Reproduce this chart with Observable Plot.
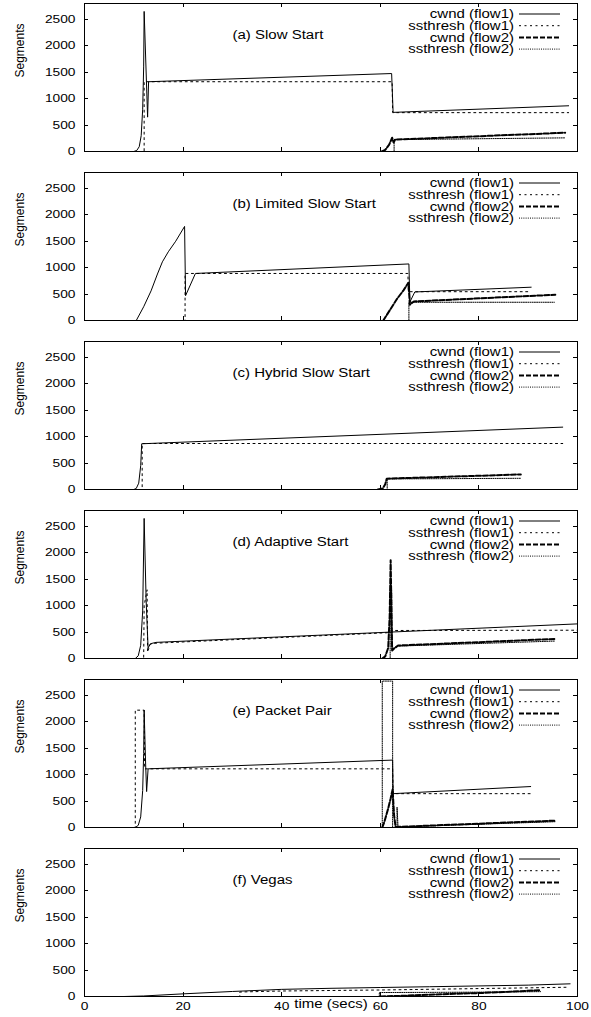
<!DOCTYPE html>
<html>
<head>
<meta charset="utf-8">
<script src="https://cdn.jsdelivr.net/npm/d3@7"></script>
<script src="https://cdn.jsdelivr.net/npm/@observablehq/plot@0.6"></script>
<style>
  html, body { margin: 0; padding: 0; background: #fff; }
  #chart svg { display: block; }
</style>
</head>
<body>
<div id="chart"></div>
<script>
// ---- tick values / labels ----
const xTicks = [0, 20, 40, 60, 80, 100];
const yTicks = [0, 500, 1000, 1500, 2000, 2500];
const seriesNames = ["cwnd (flow1)", "ssthresh (flow1)", "cwnd (flow2)", "ssthresh (flow2)"];
const panelTitles = ["(a) Slow Start", "(b) Limited Slow Start", "(c) Hybrid Slow Start",
                     "(d) Adaptive Start", "(e) Packet Pair", "(f) Vegas"];
const yLabel = "Segments";
const xLabel = "time (secs)";

// ---- series values: [time (secs), segments] ----
// (a) Slow Start
const aCwnd1 = [[0,0],[10,0],[10.6,20],[11.1,90],[11.5,300],[11.8,800],[12.0,1600],[12.1,2650],[12.8,650],[13.0,1320],[62.3,1475],[62.6,740],[98.2,865]];
const aSsthresh1 = [[0,0],[12.1,0],[12.1,1320],[62.4,1320],[62.5,735],[98.2,735]];
const aCwnd2 = [[60.3,0],[61.0,30],[61.8,130],[62.4,260],[62.7,170],[63.0,225],[97.5,355]];
const aSsthresh2 = [[60.3,0],[62.8,0],[62.8,225],[97.5,258]];
// (b) Limited Slow Start
const bCwnd1 = [[0,0],[10.5,0],[12,260],[13.5,560],[14.8,880],[15.8,1110],[17,1300],[18.5,1500],[20.3,1780],[20.5,470],[22.5,890],[65.8,1070],[66.0,350],[67.0,540],[90.6,630]];
const bSsthresh1 = [[0,0],[20.4,0],[20.4,890],[65.6,890],[65.7,545],[90.6,545]];
const bCwnd2 = [[60.6,0],[62.1,220],[63.4,410],[64.7,570],[65.7,715],[66.0,300],[66.8,360],[95.5,487]];
const bSsthresh2 = [[60.6,0],[65.8,0],[65.8,345],[95.3,345]];
// (c) Hybrid Slow Start
const cCwnd1 = [[0,0],[10,0],[10.5,20],[11.0,120],[11.4,450],[11.6,865],[97.0,1180]];
const cSsthresh1 = [[0,0],[11.7,0],[11.7,870],[97.0,870]];
const cCwnd2 = [[59.5,0],[60.5,20],[61.0,100],[61.3,205],[88.5,285]];
const cSsthresh2 = [[60,0],[61.4,0],[61.4,200],[88.5,212]];
// (d) Adaptive Start
const dCwnd1 = [[0,0],[10.3,0],[10.9,50],[11.4,250],[11.8,900],[12.1,2650],[12.5,1100],[12.9,200],[13.4,280],[14.5,305],[100,655]];
const dSsthresh1 = [[0,0],[12.0,0],[12.1,1000],[12.7,1300],[12.8,120],[13.3,270],[14.5,290],[62,490],[62.5,530],[100,535]];
const dCwnd2 = [[60.4,0],[61.0,40],[61.6,200],[61.9,800],[62.1,1860],[62.4,150],[62.8,190],[63.6,245],[95.5,370]];
const dSsthresh2 = [[60.4,0],[62.0,0],[62.0,1300],[62.3,1300],[62.4,180],[63.6,235],[95.5,330]];
// (e) Packet Pair
const eCwnd1 = [[0,0],[10.3,0],[10.9,40],[11.4,200],[11.8,700],[12.0,1400],[12.1,2220],[12.4,1200],[12.6,680],[12.9,1110],[62.5,1275],[62.6,640],[90.5,775]];
const eSsthresh1 = [[0,0],[10.3,0],[10.3,2220],[12.1,2220],[12.2,1110],[62.5,1110],[62.6,640],[90.5,640]];
const eCwnd2 = [[60.4,0],[60.8,100],[61.6,360],[62.1,550],[62.5,720],[62.8,230],[63.1,10],[95.5,130]];
const eSsthresh2 = [[60.4,0],[60.4,2770],[62.5,2770],[62.5,0],[63.4,0],[63.4,385],[63.6,10],[95.5,110]];
// (f) Vegas
const fCwnd1 = [[0,0],[8,0],[12,10],[20,50],[30,95],[40,135],[50,155],[60,170],[70,185],[80,200],[90,215],[98.5,240]];
const fSsthresh1 = [[0,0],[31.5,0],[31.5,85],[40,104],[60,123],[80,150],[98,175]];
const fCwnd2 = [[60,0],[65,15],[70,35],[75,50],[80,65],[85,85],[92.5,120]];
const fSsthresh2 = [[59.8,0],[59.8,75],[70,78],[80,82],[92.5,92]];

const panelSeries = [
  [aCwnd1, aSsthresh1, aCwnd2, aSsthresh2],
  [bCwnd1, bSsthresh1, bCwnd2, bSsthresh2],
  [cCwnd1, cSsthresh1, cCwnd2, cSsthresh2],
  [dCwnd1, dSsthresh1, dCwnd2, dSsthresh2],
  [eCwnd1, eSsthresh1, eCwnd2, eSsthresh2],
  [fCwnd1, fSsthresh1, fCwnd2, fSsthresh2]
];

// ---- styles ----
const lineStyles = [
  {strokeWidth: 1, strokeDasharray: null},
  {strokeWidth: 1, strokeDasharray: "2,3.5"},
  {strokeWidth: 2, strokeDasharray: "5,2"},
  {strokeWidth: 1, strokeDasharray: "1,1.2"}
];
const STRETCH = 1.25; // horizontally stretched gnuplot lettering
const TICK = 4;

function legendMark(index, scales, values, dims) {
  const g = d3.create("svg:g").attr("font-size", 12).attr("fill", "black");
  const xr = dims.width - dims.marginRight;
  seriesNames.forEach((name, k) => {
    const y = dims.marginTop + 11 + k * 11.7;
    g.append("text")
      .attr("text-anchor", "end")
      .attr("dy", "0.35em")
      .attr("transform", `translate(${xr - 63},${y})`)
      .text(name);
    g.append("line")
      .attr("x1", xr - 58).attr("x2", xr - 17)
      .attr("y1", y).attr("y2", y)
      .attr("stroke", "black")
      .attr("stroke-width", lineStyles[k].strokeWidth)
      .attr("stroke-dasharray", lineStyles[k].strokeDasharray);
  });
  return g.node();
}

// gnuplot-style inward ticks on all four borders, placed with the plot's scales
function innerTicks(index, scales, values, dims) {
  const g = d3.create("svg:g").attr("stroke", "black").attr("stroke-width", 1);
  const L = dims.marginLeft, R = dims.width - dims.marginRight;
  const T = dims.marginTop, B = dims.height - dims.marginBottom;
  yTicks.forEach(v => {
    const py = Math.round(scales.y(v)) + 0.5;
    g.append("line").attr("x1", L).attr("x2", L + TICK).attr("y1", py).attr("y2", py);
    g.append("line").attr("x1", R - TICK).attr("x2", R).attr("y1", py).attr("y2", py);
  });
  xTicks.forEach(v => {
    const px = Math.round(scales.x(v)) + 0.5;
    g.append("line").attr("x1", px).attr("x2", px).attr("y1", T).attr("y2", T + TICK);
    g.append("line").attr("x1", px).attr("x2", px).attr("y1", B - TICK).attr("y2", B);
  });
  return g.node();
}

const root = document.getElementById("chart");
panelSeries.forEach((series, i) => {
  const last = i === panelSeries.length - 1;
  const svg = Plot.plot({
    width: 591,
    height: last ? 172 : 169,
    marginLeft: 84,
    marginRight: 14,
    marginTop: 3,
    marginBottom: last ? 21 : 18,
    style: {fontFamily: "'Liberation Sans', Arial, sans-serif", fontSize: "12px", color: "black", background: "white"},
    x: last ? {domain: [0, 100]} : {domain: [0, 100], axis: null},
    y: {domain: [0, 2800]},
    marks: [
      Plot.frame({stroke: "black"}),
      innerTicks,
      Plot.axisY(yTicks, {anchor: "left", tickSize: 0, tickPadding: 9, label: null, fontSize: 11, tickFormat: d => String(d)}),
      last ? Plot.axisX(xTicks, {anchor: "bottom", tickSize: 0, tickPadding: 6, label: null, fontSize: 11, tickFormat: d => String(d)}) : null,
      ...series.map((s, k) => Plot.line(s, {
        x: d => d[0], y: d => d[1],
        stroke: "black",
        strokeWidth: lineStyles[k].strokeWidth,
        strokeDasharray: lineStyles[k].strokeDasharray,
        clip: true
      })),
      Plot.text([panelTitles[i]], {frameAnchor: "top-left", dx: 148, dy: 27, textAnchor: "start", fontSize: 12}),
      Plot.text([yLabel], {frameAnchor: "left", rotate: -90, dx: -64, fontSize: 12}),
      last ? Plot.text([xLabel], {frameAnchor: "bottom", dy: 11, fontSize: 12}) : null,
      legendMark
    ]
  });
  d3.select(svg).selectAll("text").each(function() {
    const t = this.getAttribute("transform") || "";
    if (!/rotate/.test(t)) this.setAttribute("transform", (t + ` scale(${STRETCH},1)`).trim());
  });
  root.append(svg);
});
</script>
</body>
</html>
